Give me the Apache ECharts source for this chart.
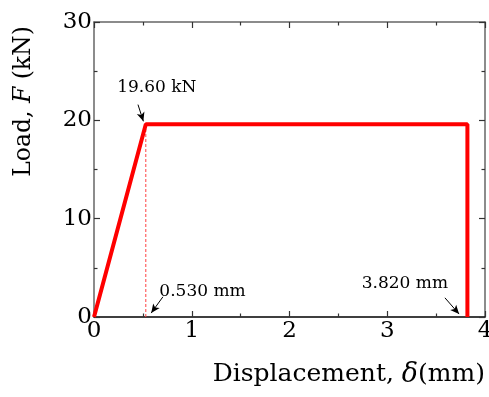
<!DOCTYPE html>
<html>
<head>
<meta charset="utf-8">
<script src="https://cdn.jsdelivr.net/npm/echarts@6/dist/echarts.min.js"></script>
<style>
  html, body { margin: 0; padding: 0; background: #fff; }
  #chart { width: 489px; height: 397px; }
</style>
</head>
<body>
<div id="chart"></div>
<script>
// load-displacement curve (mm, kN)
var dispData = [0, 0.53, 3.82, 3.82];
var loadData = [0, 19.6, 19.6, 0];
var yieldDisp = 0.53;
var peakLoad = 19.6;
var failDisp = 3.82;

var xTicks = [0, 1, 2, 3, 4];
var yTicks = [0, 10, 20, 30];
var xMinor = [0.5, 1.5, 2.5, 3.5];
var yMinor = [5, 15, 25];

var myChart = echarts.init(document.getElementById('chart'));

var font = '"DejaVu Serif", "Liberation Serif", serif';

function arrowLine(from, to) {
  return [{ coord: from }, { coord: to }];
}

// inward frame ticks, lengths in data units (plot is 391 x 295 px)
var xMax = 4, yMax = 30;
function frameTicks() {
  var lx = xMax * 6 / 391, ly = yMax * 6 / 295;
  var mx = xMax * 3.5 / 391, my = yMax * 3.5 / 295;
  var out = [];
  xTicks.concat(xMinor).forEach(function (x) {
    var l = xTicks.indexOf(x) >= 0 ? ly : my;
    out.push(arrowLine([x, 0], [x, l]));
    out.push(arrowLine([x, yMax], [x, yMax - l]));
  });
  yTicks.concat(yMinor).forEach(function (y) {
    var l = yTicks.indexOf(y) >= 0 ? lx : mx;
    out.push(arrowLine([0, y], [l, y]));
    out.push(arrowLine([xMax, y], [xMax - l, y]));
  });
  return out;
}

function frameLine(color) {
  return { show: true, onZero: false, lineStyle: { color: color || '#666', width: 1.5 } };
}

var option = {
  animation: false,
  grid: { left: 94, right: 4, top: 22, bottom: 80, outerBoundsMode: 'none' },
  xAxis: [
    {
      type: 'value', min: 0, max: xMax, interval: 1,
      axisLine: frameLine('#000'),
      axisTick: { show: false },
      splitLine: { show: false },
      axisLabel: {
        color: '#000', fontFamily: font, fontSize: 23, margin: 3,
        formatter: function (v) { return xTicks.indexOf(v) >= 0 ? String(v) : ''; }
      },
      name: '{n|Displacement, }{d|δ}{n|(mm)}',
      nameLocation: 'end',
      nameGap: 0,
      nameTextStyle: {
        align: 'right', verticalAlign: 'top', padding: [44, 0, 0, 0],
        rich: {
          n: { fontFamily: font, fontSize: 25, color: '#000' },
          d: { fontFamily: font, fontSize: 27, fontStyle: 'italic', color: '#000' }
        }
      }
    },
    {
      type: 'value', min: 0, max: xMax, interval: 1, position: 'top',
      axisLine: frameLine(), axisTick: { show: false },
      axisLabel: { show: false }, splitLine: { show: false }
    }
  ],
  yAxis: [
    {
      type: 'value', min: 0, max: yMax, interval: 10,
      axisLine: frameLine(),
      axisTick: { show: false },
      splitLine: { show: false },
      axisLabel: {
        color: '#000', fontFamily: font, fontSize: 23, margin: 2,
        formatter: function (v) { return yTicks.indexOf(v) >= 0 ? String(v) : ''; }
      },
      name: '{n|Load, }{f|F}{n| (kN)}',
      nameLocation: 'middle',
      nameRotate: 90,
      nameGap: 58,
      nameTextStyle: {
        padding: [0, 0, 0, 136],
        rich: {
          n: { fontFamily: font, fontSize: 23.5, color: '#000' },
          f: { fontFamily: font, fontSize: 23.5, fontStyle: 'italic', color: '#000' }
        }
      }
    },
    {
      type: 'value', min: 0, max: yMax, interval: 10, position: 'right',
      axisLine: frameLine(), axisTick: { show: false },
      axisLabel: { show: false }, splitLine: { show: false }
    }
  ],
  series: [
    {
      type: 'line',
      data: dispData.map(function (x, i) { return [x, loadData[i]]; }),
      showSymbol: false,
      lineStyle: { color: '#ff0000', width: 4 },
      z: 5
    },
    {
      type: 'line',
      data: [[yieldDisp, 0], [yieldDisp, peakLoad]],
      showSymbol: false,
      lineStyle: { color: '#ff4040', width: 1, type: [3, 2] },
      z: 4,
      markLine: {
        silent: true,
        symbol: ['none', 'arrow'],
        symbolSize: [6, 9],
        lineStyle: { color: '#000', width: 1, type: 'solid' },
        label: { show: false },
        data: [
          arrowLine([0.45, 21.6], [0.505, 19.9]),
          arrowLine([0.705, 2.05], [0.585, 0.4]),
          arrowLine([3.59, 1.95], [3.735, 0.3])
        ]
      },
      markPoint: {
        silent: true,
        symbol: 'circle',
        symbolSize: 0,
        label: {
          show: true, color: '#000', fontFamily: font, fontSize: 17,
          formatter: function (p) { return p.name; }
        },
        data: [
          { name: peakLoad.toFixed(2) + ' kN', coord: [0.643, 23.3] },
          { name: yieldDisp.toFixed(3) + ' mm', coord: [1.11, 2.6] },
          { name: failDisp.toFixed(3) + ' mm', coord: [3.18, 3.4] }
        ]
      }
    },
    {
      // frame ticks
      type: 'line',
      data: [[0, 0]],
      showSymbol: false,
      lineStyle: { width: 0 },
      z: 3,
      markLine: {
        silent: true,
        symbol: ['none', 'none'],
        lineStyle: { color: '#333', width: 1.2, type: 'solid' },
        label: { show: false },
        data: frameTicks()
      }
    }
  ]
};

myChart.setOption(option);
</script>
</body>
</html>
